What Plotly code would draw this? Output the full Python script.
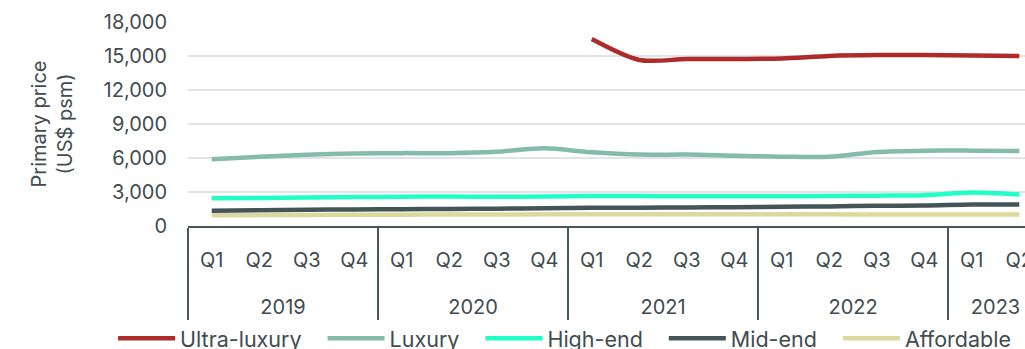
import plotly.graph_objects as go

year_labels = ["2019", "2020", "2021", "2022", "2023"]
quarters_per_year = [4, 4, 4, 4, 2]
years = [y for y, n in zip(year_labels, quarters_per_year) for _ in range(n)]
quarters = ["Q1", "Q2", "Q3", "Q4"] * 4 + ["Q1", "Q2"]

ultra_luxury = [None] * 8 + [16500, 14650, 14730, 14730, 14780, 15000, 15080, 15080, 15050, 15000]
luxury = [5900, 6100, 6280, 6400, 6430, 6430, 6550, 6850, 6500, 6300, 6300, 6200, 6120, 6100, 6530, 6650, 6650, 6620]
high_end = [2450, 2480, 2520, 2550, 2580, 2600, 2580, 2600, 2650, 2650, 2620, 2620, 2620, 2650, 2680, 2720, 2950, 2780]
mid_end = [1350, 1400, 1430, 1460, 1480, 1500, 1530, 1560, 1600, 1620, 1640, 1660, 1700, 1730, 1780, 1800, 1900, 1900]
affordable = [950, 960, 980, 990, 1000, 1010, 1020, 1030, 1040, 1040, 1040, 1040, 1030, 1030, 1020, 1020, 1020, 1020]

series_names = ["Ultra-luxury", "Luxury", "High-end", "Mid-end", "Affordable"]
series_values = [ultra_luxury, luxury, high_end, mid_end, affordable]
series_colors = ["#ae2b2b", "#85bbab", "#20ffc6", "#455457", "#dcd99e"]

FONT = "Inter"
TXT = "#404c50"
NBSP = "\u00a0"
GAP = NBSP * 2 + "\u2009"

def lbl(t):
    return "<span style='font-size:20px'>" + t + "</span>"

# year row pushed one line lower to open the gap between the two label rows
x_years = ["<br>" + lbl(y) for y in years]
x_quarters = [lbl(q) for q in quarters]

fig = go.Figure()
for i, (name, vals, col) in enumerate(zip(series_names, series_values, series_colors)):
    # trailing non-breaking spaces widen the gap between legend entries
    label = name + (GAP if i < len(series_names) - 1 else "")
    fig.add_trace(go.Scatter(
        x=[x_years, x_quarters], y=vals, name=label, mode="lines",
        line=dict(color=col, width=4.5, shape="spline", smoothing=0.8),
    ))

fig.update_layout(
    width=1025, height=349,
    margin=dict(l=188, r=0, t=22, b=123, autoexpand=False),
    paper_bgcolor="white", plot_bgcolor="white",
    font=dict(family=FONT, size=20, color=TXT),
    showlegend=True,
    legend=dict(orientation="h", x=-0.0895, xanchor="left", y=-0.55, yanchor="middle",
                font=dict(size=21.5, color=TXT), itemwidth=57,
                bgcolor="rgba(0,0,0,0)"),
)
fig.update_yaxes(
    range=[0, 18000], tickvals=[0, 3000, 6000, 9000, 12000, 15000, 18000],
    tickformat=",", showgrid=True, gridcolor="#e1e5e5", gridwidth=1.5,
    zeroline=False, showline=False, ticklabelstandoff=20, automargin=False,
    title=dict(text="Primary price<br>(US$ psm)", font=dict(size=20, color=TXT), standoff=25),
    tickfont=dict(size=20, color=TXT),
)
fig.update_xaxes(
    type="multicategory", range=[-0.5, 17.12], automargin=False,
    showline=True, linecolor="#4b5659", linewidth=2,
    showdividers=True, dividercolor="#4b5659", dividerwidth=2,
    ticklabelstandoff=10,
    showgrid=False, tickfont=dict(size=24, color=TXT),
)

fig.write_html("out.html")
